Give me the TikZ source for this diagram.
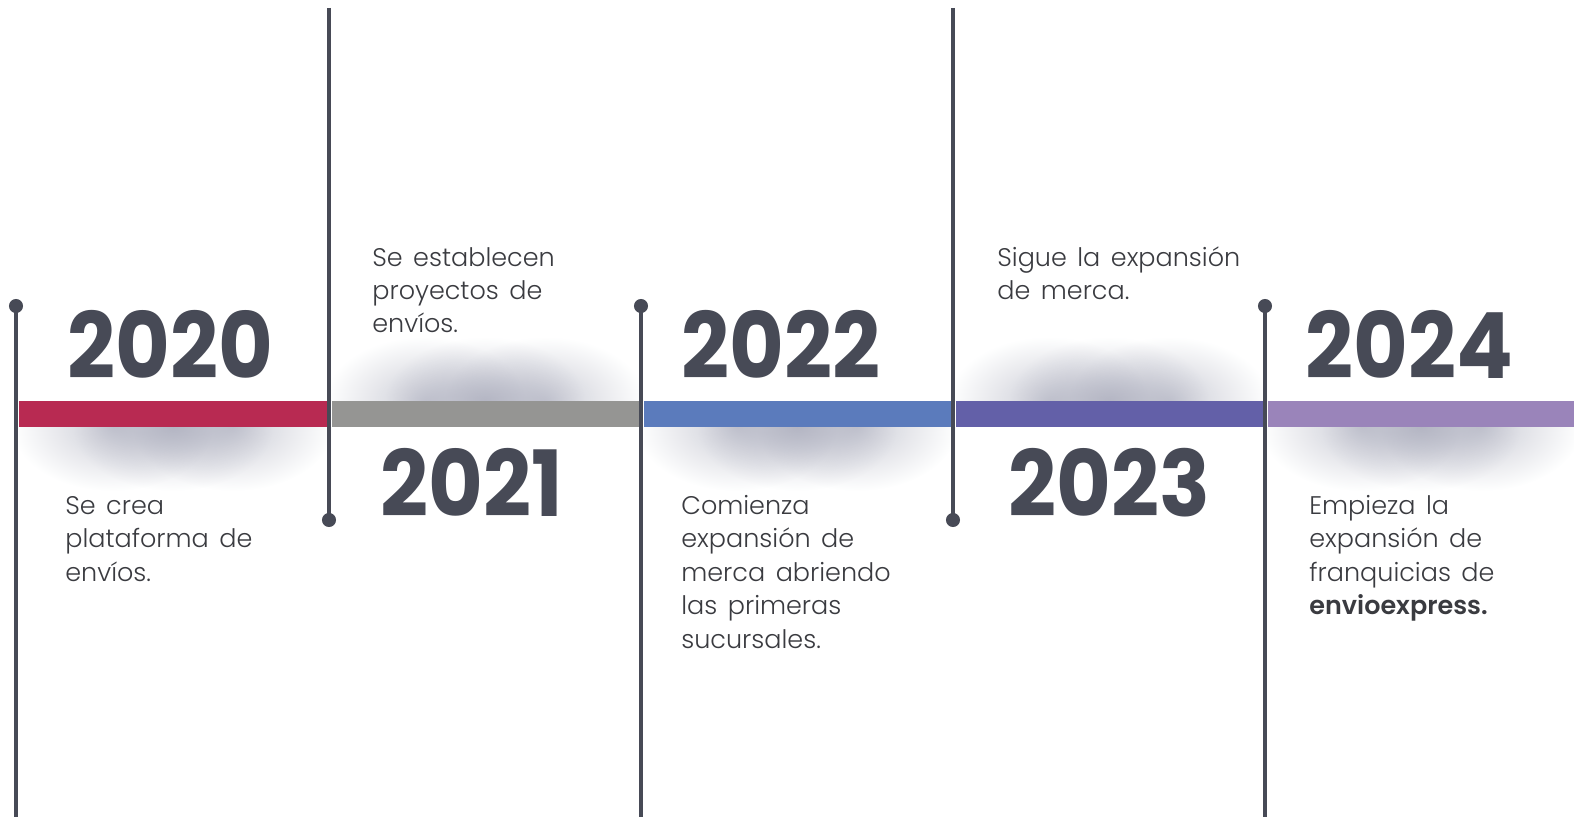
\documentclass[tikz,border=0pt]{standalone}
\usepackage{fontspec}
\usepackage{tikz}
\usetikzlibrary{positioning,fadings,backgrounds}
\newfontfamily\yearfont{Poppins Bold}[FakeStretch=0.92]
\newfontfamily\notefont{Poppins Light}[BoldFont={Poppins SemiBold}, WordSpace=1.5]

\definecolor{segred}{HTML}{B82A52}
\definecolor{seggray}{HTML}{959593}
\definecolor{segblue}{HTML}{5B7BBC}
\definecolor{segindigo}{HTML}{6360A8}
\definecolor{seglilac}{HTML}{9A84BA}
\definecolor{inkgray}{HTML}{474A56}
\definecolor{notegray}{HTML}{3A3B40}
\definecolor{shadowgray}{HTML}{7D8098}

\tikzfading[name=softshadow, inner color=transparent!60, outer color=transparent!100]

\tikzset{
  stem/.style={inkgray, line width=2pt},
  dot/.style={circle, fill=inkgray, inner sep=0pt, minimum size=8pt},
  year/.style={anchor=base west, inner sep=0pt, text=inkgray,
    font=\yearfont\fontsize{52}{52}\selectfont},
  note/.style={anchor=base west, inner sep=0pt, align=left, text=notegray,
    font=\notefont\fontsize{14.5}{19}\selectfont},
}

\begin{document}
\begin{tikzpicture}[x=0.02cm, y=-0.02cm]
\useasboundingbox (0,0) rectangle (1574,817);

% soft shadows, below or above each piece of the bar
\foreach \xa/\xb/\cx/\ye/\yf in {19/327/173/427/500, 332/639/485/401/330,
  644/951/797/427/500, 956/1263/1109/401/330, 1268/1574/1421/427/500}
{
\begin{scope}
\clip (\xa,\ye) rectangle (\xb,\yf);
\foreach \dx in {-60,0,60}
  \fill[shadowgray, path fading=softshadow] (\cx+\dx,\ye) ellipse (100 and 64);
\end{scope}
}

% bar
\fill[segred]    (19,401)   rectangle (327,427);
\fill[seggray]   (332,401)  rectangle (639,427);
\fill[segblue]   (644,401)  rectangle (951,427);
\fill[segindigo] (956,401)  rectangle (1263,427);
\fill[seglilac]  (1268,401) rectangle (1574,427);

% stems
\node[dot] (d2020) at (16,306) {};
\node[dot] (d2021) at (329,520) {};
\node[dot] (d2022) at (641,306) {};
\node[dot] (d2023) at (953,520) {};
\node[dot] (d2024) at (1265,306) {};
\coordinate (e2020) at (16,817);
\coordinate (e2021) at (329,8);
\coordinate (e2022) at (641,817);
\coordinate (e2023) at (953,8);
\coordinate (e2024) at (1265,817);
\draw[stem] (d2020.center) -- (e2020);
\draw[stem] (e2021) -- (d2021.center);
\draw[stem] (d2022.center) -- (e2022);
\draw[stem] (e2023) -- (d2023.center);
\draw[stem] (d2024.center) -- (e2024);

% years
\node[year] (y2020) at (67,378) {2020};
\node[year] (y2021) at (380,516) {2021};
\node[year] (y2022) at (681,378) {2022};
\node[year] (y2023) at (1008,516) {2023};
\node[year] (y2024) at (1305,378) {2024};

% notes (anchored at the last line)
\node[note] (t2020) at (65,581) {Se crea\\plataforma de\\envíos.};
\node[note] (t2021) at (372,333) {Se establecen\\proyectos de\\envíos.};
\node[note] (t2022) at (681,648) {Comienza\\expansión de\\merca abriendo\\las primeras\\sucursales.};
\node[note] (t2023) at (997,299.5) {Sigue la expansión\\de merca.};
\node[note] (t2024) at (1309,614.5) {Empieza la\\expansión de\\franquicias de\\\textbf{envioexpress.}};
\end{tikzpicture}
\end{document}
